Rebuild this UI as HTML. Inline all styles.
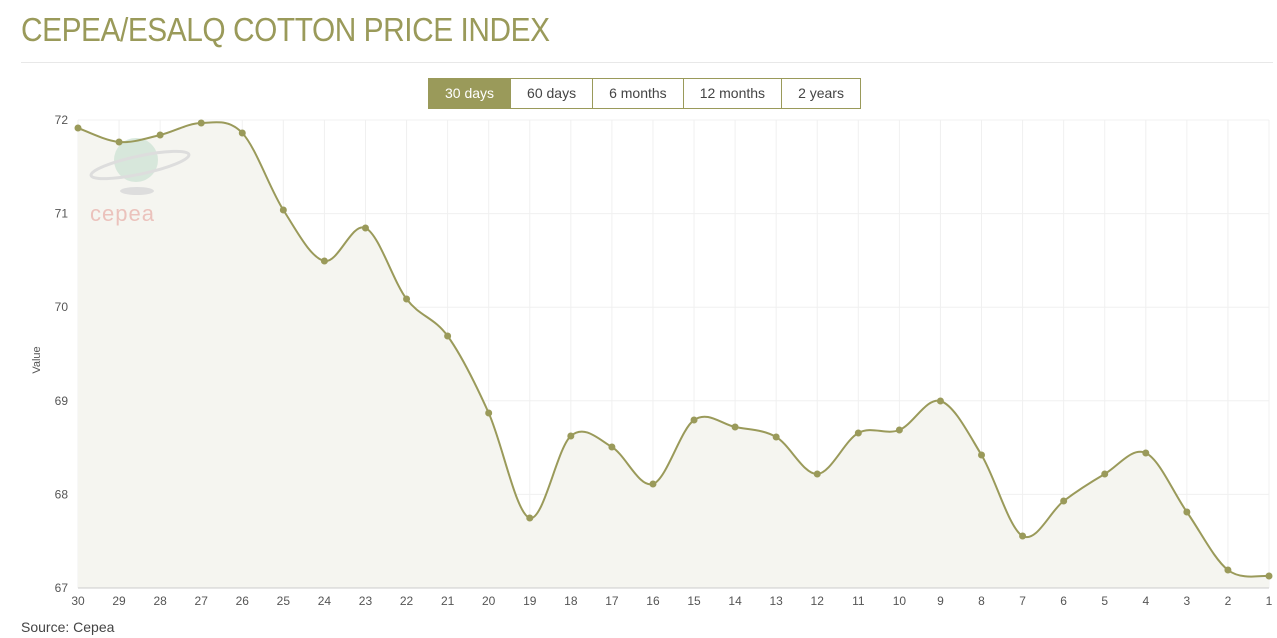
<!DOCTYPE html>
<html><head><meta charset="utf-8"><style>
body{margin:0;background:#fff;font-family:"Liberation Sans",sans-serif;width:1277px;height:638px;overflow:hidden;position:relative}
h1{position:absolute;left:21px;top:11px;margin:0;font-weight:normal;font-size:33px;color:#9a9a5a;letter-spacing:-0.5px;transform:scaleX(0.905);transform-origin:0 0;white-space:nowrap}
.hr{position:absolute;left:21px;right:4px;top:62px;border-top:1px solid #e8e8e8}
.btns{position:absolute;left:428px;top:78px;display:flex;border:1px solid #9a9a5a;height:29px}
.btns div{padding:0 16px;line-height:29px;font-size:14px;color:#444;border-left:1px solid #9a9a5a}
.btns div:first-child{border-left:none;background:#9a9a5a;color:#fff}
.src{position:absolute;left:21px;top:619px;font-size:14px;color:#444}
</style></head><body>
<h1>CEPEA/ESALQ COTTON PRICE INDEX</h1>
<div class="hr"></div>
<div class="btns"><div>30 days</div><div>60 days</div><div>6 months</div><div>12 months</div><div>2 years</div></div>
<svg id="s" width="1277" height="638" style="position:absolute;left:0;top:0"></svg>
<div class="src">Source: Cepea</div>
<script>
var ys=[128,142,135,123,133,210,261,228,299,336,413,518,436,447,484,420,427,437,474,433,430,401,455,536,501,474,453,512,570,576];
var x0=78,x1=1269,st=(x1-x0)/29,o='';
for(var v=67;v<=72;v++){var y=588-(v-67)*93.6;o+='<line x1="78" x2="1269" y1="'+y+'" y2="'+y+'" stroke="#f0f0f0"/><text x="68" y="'+(y+4)+'" font-size="12" fill="#555" text-anchor="end" font-family="Liberation Sans">'+v+'</text>';}
var pts=ys.map(function(y,i){return [x0+i*st,y]});
pts.forEach(function(p,i){o+='<line x1="'+p[0]+'" x2="'+p[0]+'" y1="120" y2="588" stroke="#f0f0f0"/><text x="'+p[0]+'" y="605" font-size="12" fill="#555" text-anchor="middle" font-family="Liberation Sans">'+(30-i)+'</text>';});
var d='M'+pts[0][0]+','+pts[0][1];
for(var i=0;i<pts.length-1;i++){var p0=pts[Math.max(i-1,0)],p1=pts[i],p2=pts[i+1],p3=pts[Math.min(i+2,pts.length-1)];
d+=' C'+(p1[0]+(p2[0]-p0[0])/6)+','+(p1[1]+(p2[1]-p0[1])/6)+' '+(p2[0]-(p3[0]-p1[0])/6)+','+(p2[1]-(p3[1]-p1[1])/6)+' '+p2[0]+','+p2[1];}
o+='<path d="'+d+' L1269,588 L78,588Z" fill="#f5f5f0"/>';
o+='<line x1="78" x2="1269" y1="588" y2="588" stroke="#ccc"/>';
o+='<ellipse cx="136" cy="160" rx="22" ry="22" fill="#cfe3d6" opacity=".8"/><ellipse cx="140" cy="165" rx="50" ry="9" fill="none" stroke="#ddd" stroke-width="3" transform="rotate(-12 140 165)"/><ellipse cx="137" cy="191" rx="17" ry="4" fill="#ddd"/><text x="90" y="221" font-size="22" fill="#ebc2bc" font-family="Liberation Sans" letter-spacing="1">cepea</text>';
o+='<path d="'+d+'" fill="none" stroke="#9a9a5a" stroke-width="2"/>';
pts.forEach(function(p){o+='<circle cx="'+p[0]+'" cy="'+p[1]+'" r="3.5" fill="#9a9a5a"/>';});
o+='<text x="40" y="360" font-size="11" fill="#555" text-anchor="middle" transform="rotate(-90 40 360)" font-family="Liberation Sans">Value</text>';
document.getElementById('s').innerHTML=o;
</script>
</body></html>
